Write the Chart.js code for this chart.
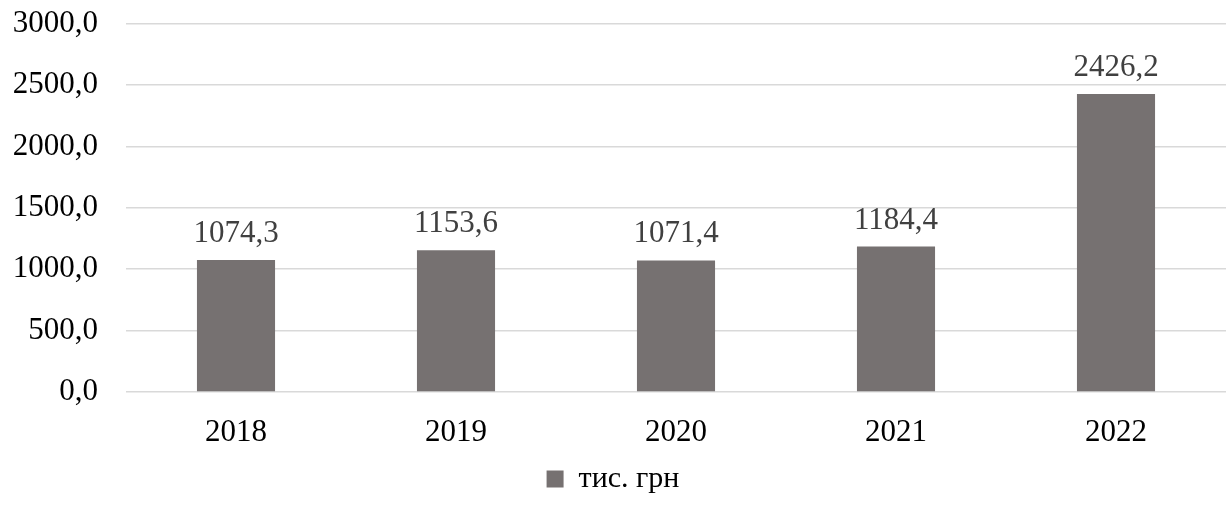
<!DOCTYPE html>
<html>
<head>
<meta charset="utf-8">
<script src="https://cdn.jsdelivr.net/npm/chart.js@4/dist/chart.umd.min.js"></script>
<style>
  body { margin: 0; background: #fff; overflow: hidden; }
  #wrap { width: 1230px; height: 529px; margin-top: -23px; }
</style>
</head>
<body>
<div id="wrap"><canvas id="grafico"></canvas></div>
<script>
var categorias = ["2018", "2019", "2020", "2021", "2022"];
var valores = [1074.3, 1153.6, 1071.4, 1184.4, 2426.2];
var serieNombre = "тис. грн";
var ejeMax = 3000;
var ejePaso = 500;

var fuente = '"Liberation Serif", "Times New Roman", serif';

function coma(v, dec) {
    return v.toFixed(dec).replace(".", ",");
}

// etiquetas encima de las barras
var etiquetas = {
    id: 'etiquetas',
    afterDatasetsDraw: function(chart) {
        var ctx = chart.ctx;
        var meta = chart.getDatasetMeta(0);
        ctx.save();
        ctx.font = '31px ' + fuente;
        ctx.fillStyle = '#404040';
        ctx.textAlign = 'center';
        ctx.textBaseline = 'alphabetic';
        meta.data.forEach(function(bar, i) {
            ctx.fillText(coma(valores[i], 1), bar.x, bar.y - 18);
        });
        ctx.restore();
    }
};

var ctx = document.getElementById('grafico').getContext('2d');
var chart = new Chart(ctx, {
    type: 'bar',
    data: {
        labels: categorias,
        datasets: [{
            label: serieNombre,
            data: valores,
            backgroundColor: '#767171',
            barPercentage: 0.355,
            categoryPercentage: 1
        }]
    },
    plugins: [etiquetas],
    options: {
        responsive: true,
        maintainAspectRatio: false,
        animation: false,
        layout: { padding: { top: 0, right: 4, left: 0, bottom: 2 } },
        plugins: {
            legend: {
                position: 'bottom',
                labels: {
                    color: '#000',
                    boxWidth: 17,
                    boxHeight: 17,
                    padding: 4,
                    font: { family: fuente, size: 30 }
                }
            },
            tooltip: { enabled: false }
        },
        scales: {
            x: {
                afterFit: function(axis) { axis.height = 68; },
                grid: { display: false, drawTicks: false },
                border: { display: false },
                ticks: {
                    color: '#000',
                    padding: 22,
                    font: { family: fuente, size: 31 }
                }
            },
            y: {
                min: 0,
                max: ejeMax,
                afterFit: function(axis) { axis.width = 126; },
                grid: { color: '#d9d9d9', lineWidth: 1.5, drawTicks: false },
                border: { display: false },
                ticks: {
                    stepSize: ejePaso,
                    color: '#000',
                    padding: 28,
                    font: { family: fuente, size: 31 },
                    callback: function(v) { return coma(v, 1); }
                }
            }
        }
    }
});
</script>
</body>
</html>
